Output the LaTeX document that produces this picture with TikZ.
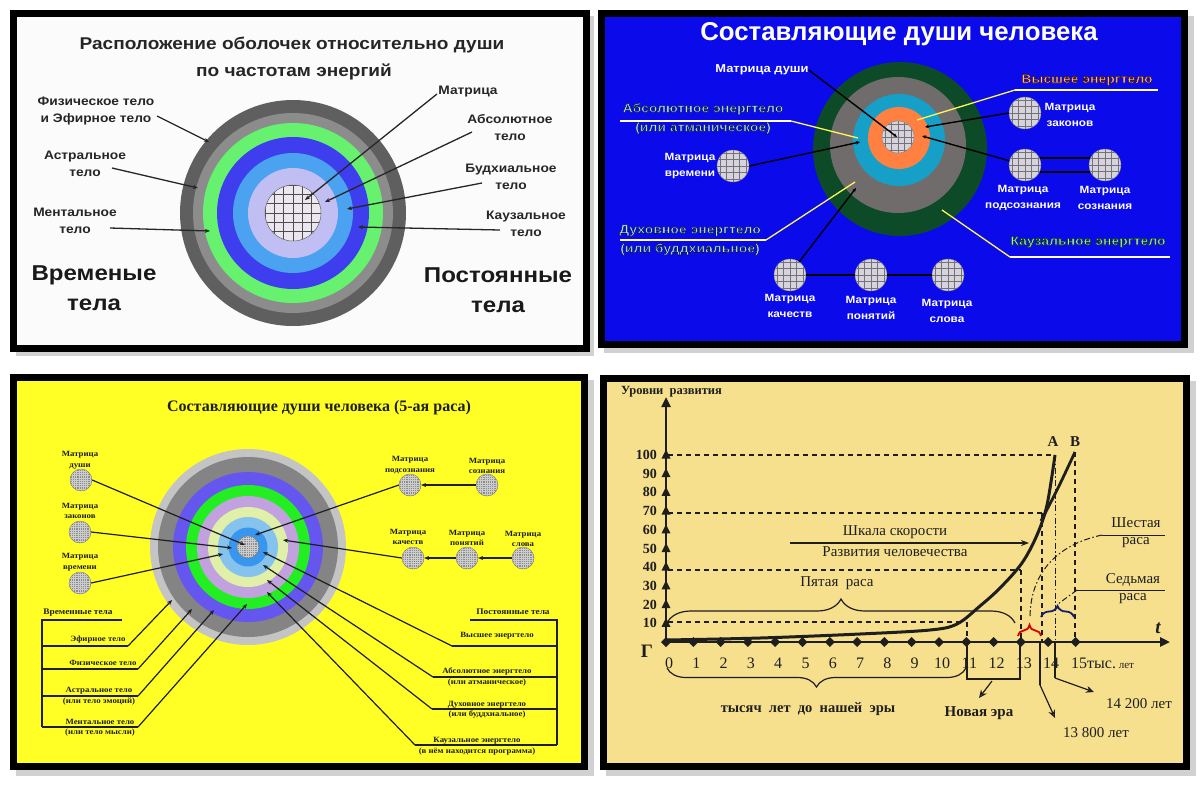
\documentclass[tikz,border=0pt]{standalone}
\usepackage{fontspec}
\setmainfont{Liberation Serif}
\newfontfamily\sa[FakeStretch=1.12]{Liberation Sans}
\newfontfamily\sn{Liberation Sans}
\newfontfamily\se[FakeStretch=1.1]{Liberation Serif}
\usetikzlibrary{arrows.meta,decorations.pathreplacing}
\definecolor{pa}{RGB}{251,251,251}
\definecolor{dga}{RGB}{95,95,95}
\definecolor{mga}{RGB}{140,140,140}
\definecolor{gra}{RGB}{102,242,110}
\definecolor{bla}{RGB}{62,62,238}
\definecolor{lba}{RGB}{74,162,240}
\definecolor{lva}{RGB}{192,190,242}
\definecolor{gfa}{RGB}{236,230,238}
\definecolor{pb}{RGB}{10,10,235}
\definecolor{dgb}{RGB}{12,74,40}
\definecolor{gyb}{RGB}{112,108,108}
\definecolor{tlb}{RGB}{22,160,200}
\definecolor{orb}{RGB}{255,128,64}
\definecolor{gfb}{RGB}{214,210,222}
\definecolor{cyb}{RGB}{176,230,246}
\definecolor{sab}{RGB}{255,186,150}
\definecolor{lgb}{RGB}{168,236,186}
\definecolor{pc}{RGB}{255,255,38}
\definecolor{lgc}{RGB}{196,196,196}
\definecolor{dgc}{RGB}{132,132,132}
\definecolor{vic}{RGB}{102,86,240}
\definecolor{grc}{RGB}{34,238,34}
\definecolor{lvc}{RGB}{194,162,222}
\definecolor{ygc}{RGB}{224,240,168}
\definecolor{lbc}{RGB}{134,194,238}
\definecolor{bbc}{RGB}{56,150,238}
\definecolor{pd}{RGB}{246,224,142}
\definecolor{ink}{RGB}{30,30,30}
\definecolor{navy}{RGB}{20,30,110}
\newcommand\outlinetxt[2]{\special{pdf:literal direct #1 RG 0.55 w 2 Tr}#2\special{pdf:literal direct 0 Tr}}
\begin{document}
\begin{tikzpicture}[x=1pt,y=-1pt,
  frame/.style={line width=7pt,draw=black},
  shadow/.style={fill=black!18},
  l1/.style={font=\sa\bfseries\fontsize{12.3}{17}\selectfont,align=center,inner sep=0pt,text=black!85},
  big1/.style={font=\sa\bfseries\fontsize{21.5}{30}\selectfont,align=center,inner sep=0pt,text=black!90},
  t1/.style={font=\sa\bfseries\fontsize{17}{18}\selectfont,inner sep=0pt,text=black!85},
  a1/.style={line width=1.3pt,draw=black!85,-{Stealth[length=5pt,width=4pt]}},
  gm1/.style={circle,inner sep=0pt,minimum size=56pt,fill=gfa,draw=black!60,line width=0.5pt,
    path picture={\draw[black!70,line width=0.6pt] (path picture bounding box.south west) grid[step=9.3pt] (path picture bounding box.north east);}},
  t2/.style={font=\sn\bfseries\fontsize{25.8}{27}\selectfont,inner sep=0pt,text=white},
  l2/.style={font=\sa\bfseries\fontsize{10.5}{16}\selectfont,align=center,inner sep=0pt,text=white},
  o2/.style={font=\sa\bfseries\fontsize{12.5}{19}\selectfont,align=center,inner sep=0pt},
  m2/.style={circle,inner sep=0pt,minimum size=32pt,fill=gfb,draw=black!50,line width=0.4pt,
    path picture={\draw[black!55,line width=0.5pt] (path picture bounding box.south west) grid[step=6.5pt] (path picture bounding box.north east);}},
  a2/.style={line width=1.4pt,draw=black,-{Stealth[length=4pt,width=3.5pt]}},
  c2/.style={line width=1.4pt,draw=black},
  wl/.style={line width=1.3pt,draw=white},
  yl/.style={line width=1.3pt,draw=yellow!65!white},
  t3/.style={font=\bfseries\fontsize{16}{17}\selectfont,inner sep=0pt,text=ink},
  l3/.style={font=\se\bfseries\fontsize{8}{10.5}\selectfont,align=center,inner sep=0pt,text=ink},
  m3/.style={circle,inner sep=0pt,minimum size=22pt,fill=black!45,draw=black!55,line width=0.3pt,
    path picture={\draw[white!80!black,line width=0.35pt] (path picture bounding box.south west) grid[step=2.2pt] (path picture bounding box.north east);}},
  a3/.style={line width=1.2pt,draw=ink,-{Stealth[length=5pt,width=4pt]}},
  c3/.style={line width=1.1pt,draw=ink},
  f4b/.style={font=\bfseries\fontsize{12.5}{14}\selectfont,inner sep=0pt,text=ink},
  f4n/.style={font=\bfseries\fontsize{14}{16}\selectfont,inner sep=0pt,text=ink},
  f4x/.style={font=\fontsize{16}{18}\selectfont,inner sep=0pt,text=ink},
  f4r/.style={font=\fontsize{15}{17}\selectfont,inner sep=0pt,text=ink,align=center},
  f4l/.style={font=\bfseries\fontsize{15}{17}\selectfont,inner sep=0pt,text=ink},
  dsh/.style={line width=1.1pt,draw=ink,dash pattern=on 5pt off 4pt},
  dd/.style={line width=1pt,draw=ink,dash pattern=on 6pt off 2.5pt on 1.5pt off 2.5pt},
  ax/.style={line width=2.4pt,draw=ink},
  a4/.style={line width=1.2pt,draw=ink,-{Stealth[length=8pt,width=7pt,open]}}
]
\useasboundingbox (0,0) rectangle (1200,788);
\fill[white] (0,0) rectangle (1200,788);

% ================= PANEL 1 =================
\fill[shadow] (16,16) rectangle (594,356);
\filldraw[frame,fill=pa] (13.5,13.5) rectangle (586.5,348.5);
\node[t1] (p1ta) at (292,45) {Расположение оболочек относительно души};
\node[t1] (p1tb) at (294,72) {по частотам энергий};
\fill[dga] (293,213) circle (113);
\fill[mga] (293,213) circle (100);
\fill[gra] (293,213) circle (90);
\fill[bla] (293,213) circle (76);
\fill[lba] (293,213) circle (60);
\fill[lva] (293,213) circle (45);
\node[gm1] (p1m) at (293,213) {};
\node[l1] (p1fiz) at (96,111) {Физическое тело\\и Эфирное тело};
\node[l1] (p1astr) at (85,164) {Астральное\\тело};
\node[l1] (p1ment) at (75,221) {Ментальное\\тело};
\node[big1] (p1vrem) at (94,288) {Временые\\тела};
\node[l1] (p1matr) at (468,92) {Матрица};
\node[l1] (p1abs) at (510,128) {Абсолютное\\тело};
\node[l1] (p1bud) at (511,177) {Будхиальное\\тело};
\node[l1] (p1kau) at (526,224) {Каузальное\\тело};
\node[big1] (p1post) at (498,290) {Постоянные\\тела};
\coordinate (p1fizS) at (157,116); \coordinate (p1fizE) at (209,142);
\coordinate (p1astrS) at (112,168); \coordinate (p1astrE) at (198,188);
\coordinate (p1mentS) at (110,228); \coordinate (p1mentE) at (210,231);
\coordinate (p1matrS) at (437,94); \coordinate (p1matrE) at (305,200);
\coordinate (p1absS) at (472,132); \coordinate (p1absE) at (325,202);
\coordinate (p1budS) at (482,183); \coordinate (p1budE) at (347,209);
\coordinate (p1kauS) at (500,230); \coordinate (p1kauE) at (358,227);
\draw[a1] (p1fizS) -- (p1fizE);
\draw[a1] (p1astrS) -- (p1astrE);
\draw[a1] (p1mentS) -- (p1mentE);
\draw[a1] (p1matrS) -- (p1matrE);
\draw[a1] (p1absS) -- (p1absE);
\draw[a1] (p1budS) -- (p1budE);
\draw[a1] (p1kauS) -- (p1kauE);

% ================= PANEL 2 =================
\fill[shadow] (604,16) rectangle (1194,353);
\filldraw[frame,fill=pb] (601.5,13.5) rectangle (1184.5,344.5);
\node[t2] (p2t) at (899,34) {Составляющие души человека};
\fill[dgb] (900,149) circle (87);
\fill[gyb] (898,145) circle (68);
\fill[tlb] (899,140) circle (46);
\fill[orb] (899,138) circle (31);
\node[m2] (p2m) at (898,137) {};
\node[l2,font=\sa\bfseries\fontsize{11.5}{16}\selectfont] (p2dush) at (762,70) {Матрица души};
\node[m2] (p2vrem) at (733,166) {};
\node[l2] (p2vremL) at (690,166) {Матрица\\времени};
\node[m2] (p2kach) at (790,275) {};
\node[m2] (p2pon) at (871,275) {};
\node[m2] (p2slov) at (948,275) {};
\node[l2] (p2kachL) at (790,306) {Матрица\\качеств};
\node[l2] (p2ponL) at (871,308) {Матрица\\понятий};
\node[l2] (p2slovL) at (947,311) {Матрица\\слова};
\node[m2] (p2zak) at (1025,113) {};
\node[m2] (p2podc) at (1025,165) {};
\node[m2] (p2soz) at (1105,165) {};
\node[l2] (p2zakL) at (1070,115) {Матрица\\законов};
\node[l2] (p2podcL) at (1023,198) {Матрица\\подсознания};
\node[l2] (p2sozL) at (1105,198) {Матрица\\сознания};
\node[o2,text=cyb] (p2abs) at (703,118.5) {\outlinetxt{0.05 0.08 0.3}{Абсолютное энергтело\\(или атманическое)}};
\node[o2,text=cyb] (p2duh) at (690,240) {\outlinetxt{0.05 0.08 0.3}{Духовное энергтело\\(или буддхиальное)}};
\node[o2,text=sab] (p2vys) at (1087,80) {\outlinetxt{0.25 0.05 0.05}{Высшее энергтело}};
\node[o2,text=lgb] (p2kau) at (1088,242) {\outlinetxt{0.02 0.2 0.1}{Каузальное энергтело}};
\coordinate (p2absU) at (620,121); \coordinate (p2absK) at (791,121); \coordinate (p2absE) at (858,138);
\coordinate (p2duhU) at (620,240); \coordinate (p2duhK) at (766,240); \coordinate (p2duhE) at (855,182);
\coordinate (p2vysU) at (1158,90); \coordinate (p2vysK) at (1015,90); \coordinate (p2vysE) at (917,120);
\coordinate (p2kauU) at (1170,257); \coordinate (p2kauK) at (1010,257); \coordinate (p2kauE) at (942,210);
\draw[wl] (p2absU) -- (p2absK); \draw[yl] (p2absK) -- (p2absE);
\draw[wl] (p2duhU) -- (p2duhK); \draw[yl] (p2duhK) -- (p2duhE);
\draw[wl] (p2vysU) -- (p2vysK); \draw[yl] (p2vysK) -- (p2vysE);
\draw[wl] (p2kauU) -- (p2kauK); \draw[yl] (p2kauK) -- (p2kauE);
\coordinate (p2dushE) at (897,137);
\coordinate (p2vremE) at (860,142);
\coordinate (p2kachE) at (856,188);
\coordinate (p2zakE) at (925,127);
\coordinate (p2podcE) at (922,136);
\draw[a2] (p2dush.east) -- (p2dushE);
\draw[a2] (p2vrem.east) -- (p2vremE);
\draw[a2] (p2kach.55) -- (p2kachE);
\draw[a2] (p2zak.west) -- (p2zakE);
\draw[a2] (p2podc.165) -- (p2podcE);
\draw[c2] (p2kach.east) -- (p2pon.west);
\draw[c2] (p2pon.east) -- (p2slov.west);
\draw[c2] (p2podc.25) -- (p2soz.155);
\draw[c2] (p2podc.-25) -- (p2soz.-155);

% ================= PANEL 3 =================
\fill[shadow] (16,380) rectangle (594,776);
\filldraw[frame,fill=pc] (13.5,377.5) rectangle (584.5,766.5);
\node[t3] (p3t) at (319,408) {Составляющие души человека (5-ая раса)};
\fill[lgc] (248,547) circle (98);
\fill[dgc] (248,547) circle (90);
\fill[vic] (248,547) circle (75);
\fill[grc] (248,547) circle (62);
\fill[lvc] (248,547) circle (51);
\fill[ygc] (248,547) circle (40);
\fill[lbc] (248,547) circle (30);
\fill[bbc] (248,547) circle (19.5);
\node[m3] (p3m) at (248,547) {};
\node[l3] (p3dushL) at (80,460) {Матрица\\души};
\node[l3] (p3zakL) at (80,511) {Матрица\\законов};
\node[l3] (p3vremL) at (80,562) {Матрица\\времени};
\node[m3] (p3dush) at (81,480) {};
\node[m3] (p3zak) at (80,532) {};
\node[m3] (p3vrem) at (80,583) {};
\node[l3] (p3podcL) at (410,465) {Матрица\\подсознания};
\node[l3] (p3sozL) at (487,466) {Матрица\\сознания};
\node[m3] (p3podc) at (410,485) {};
\node[m3] (p3soz) at (487,485) {};
\node[l3] (p3kachL) at (408,537) {Матрица\\качеств};
\node[l3] (p3ponL) at (467,538) {Матрица\\понятий};
\node[l3] (p3slovL) at (523,539) {Матрица\\слова};
\node[m3] (p3kach) at (413,558) {};
\node[m3] (p3pon) at (467,558) {};
\node[m3] (p3slov) at (523,558) {};
\coordinate (p3dushE) at (245,545);
\coordinate (p3zakE) at (232,548);
\coordinate (p3vremE) at (223,554);
\coordinate (p3podcE) at (255,535);
\coordinate (p3kachE) at (283,540);
\draw[a3] (p3dush.east) -- (p3dushE);
\draw[a3] (p3zak.east) -- (p3zakE);
\draw[a3] (p3vrem.east) -- (p3vremE);
\draw[a3] (p3podc.west) -- (p3podcE);
\draw[a3] (p3kach.west) -- (p3kachE);
\draw[a3] (p3soz.west) -- (p3podc.east);
\draw[a3] (p3slov.west) -- (p3pon.east);
\draw[a3] (p3pon.west) -- (p3kach.east);
% left bracket
\node[l3,font=\se\bfseries\fontsize{8.5}{10.5}\selectfont] (p3vr) at (78,613) {Временные тела};
\coordinate (p3vrA) at (42,620); \coordinate (p3vrB) at (122,620); \coordinate (p3vrC) at (42,727);
\draw[c3] (p3vrB) -- (p3vrA) -- (p3vrC);
\node[l3] (p3ef) at (98,640) {Эфирное тело};
\node[l3] (p3fz) at (103,663) {Физическое тело};
\node[l3] (p3as) at (99,696) {Астральное тело\\(или тело эмоций)};
\node[l3] (p3mn) at (100,727.5) {Ментальное тело\\(или тело мысли)};
\coordinate (p3efA) at (42,646); \coordinate (p3efB) at (128,646); \coordinate (p3efE) at (172,600);
\coordinate (p3fzA) at (42,669); \coordinate (p3fzB) at (138,669); \coordinate (p3fzE) at (192,609);
\coordinate (p3asA) at (42,696); \coordinate (p3asB) at (138,696); \coordinate (p3asE) at (214,610);
\coordinate (p3mnA) at (42,727); \coordinate (p3mnB) at (138,727); \coordinate (p3mnE) at (247,604);
\draw[c3] (p3efA) -- (p3efB); \draw[a3] (p3efB) -- (p3efE);
\draw[c3] (p3fzA) -- (p3fzB); \draw[a3] (p3fzB) -- (p3fzE);
\draw[c3] (p3asA) -- (p3asB); \draw[a3] (p3asB) -- (p3asE);
\draw[c3] (p3mnA) -- (p3mnB); \draw[a3] (p3mnB) -- (p3mnE);
% right bracket
\node[l3,font=\se\bfseries\fontsize{8.5}{10.5}\selectfont] (p3po) at (513,612) {Постоянные тела};
\coordinate (p3poA) at (470,620); \coordinate (p3poB) at (557,620); \coordinate (p3poC) at (557,745);
\draw[c3] (p3poA) -- (p3poB) -- (p3poC);
\node[l3] (p3vy) at (497,636) {Высшее энергтело};
\node[l3] (p3ab) at (487,677) {Абсолютное энергтело\\(или атманическое)};
\node[l3] (p3du) at (487,709.5) {Духовное энергтело\\(или буддхиальное)};
\node[l3] (p3ka) at (477,746) {Каузальное энергтело\\(в нём находится программа)};
\coordinate (p3vyA) at (557,646); \coordinate (p3vyB) at (452,646); \coordinate (p3vyE) at (263,552);
\coordinate (p3abA) at (557,677); \coordinate (p3abB) at (433,677); \coordinate (p3abE) at (263,565);
\coordinate (p3duA) at (557,709); \coordinate (p3duB) at (432,709); \coordinate (p3duE) at (267,580);
\coordinate (p3kaA) at (557,745); \coordinate (p3kaB) at (415,745); \coordinate (p3kaE) at (267,592);
\draw[c3] (p3vyA) -- (p3vyB); \draw[a3] (p3vyB) -- (p3vyE);
\draw[c3] (p3abA) -- (p3abB); \draw[a3] (p3abB) -- (p3abE);
\draw[c3] (p3duA) -- (p3duB); \draw[a3] (p3duB) -- (p3duE);
\draw[c3] (p3kaA) -- (p3kaB); \draw[a3] (p3kaB) -- (p3kaE);

% ================= PANEL 4 =================
\fill[shadow] (606,381) rectangle (1196,776);
\filldraw[frame,fill=pd] (603.5,378.5) rectangle (1186.5,766.5);
% guides
\coordinate (p4A) at (1055,455);
\coordinate (p4B) at (1075,452);
\draw[dsh] (668,455) -- (p4A);
\draw[dsh] (668,513) -- (1042,513);
\draw[dsh] (668,570) -- (1021,570);
\draw[dsh] (668,622) -- (965,622);
\draw[dsh] (1021,570) -- (1021,642);
\draw[dsh] (1042,513) -- (1042,642);
\draw[dsh] (967,622) -- (967,642);
\draw[dsh] (p4B) -- (1075,642);
\draw[dd] (p4A) -- (1055,642);
% axes
\coordinate (p4O) at (666,642);
\coordinate (p4ytop) at (666,397);
\coordinate (p4xend) at (1170,642);
\draw[ax,-{Triangle[length=10pt,width=9pt]}] (p4O) -- (p4ytop);
\draw[ax,-{Triangle[length=10pt,width=9pt]}] (p4O) -- (p4xend);
\node[f4b,anchor=west] (p4yl) at (621,392) {Уровни\ \ развития};
\foreach \v in {10,20,...,100}{
  \fill[ink] (661.5,{642-1.87*\v+3.5}) -- (670.5,{642-1.87*\v+3.5}) -- (666,{642-1.87*\v-5.5}) -- cycle;
  \node[f4n,anchor=east] (p4y\v) at (657,{642-1.87*\v}) {\v};
}
\foreach \t in {0,...,15}{
  \fill[ink] ({666+27.3*\t-5},642) -- ({666+27.3*\t},637) -- ({666+27.3*\t+5},642) -- ({666+27.3*\t},647) -- cycle;
}
\foreach \t in {0,...,14}{
  \node[f4x] (p4x\t) at ({669+27.3*\t},663) {\t};
}
\node[f4x,anchor=west] (p4x15) at (1071,663) {15тыс.{\fontsize{11}{12}\selectfont\ лет}};
\node[font=\bfseries\fontsize{19}{20}\selectfont,text=ink,inner sep=0pt] (p4G) at (647,651) {Г};
\node[font=\bfseries\itshape\fontsize{19}{20}\selectfont,text=ink,inner sep=0pt] (p4t) at (1158,628) {t};
% curves
\draw[line width=3pt,ink] plot[smooth,tension=0.55] coordinates {(666,640) (760,638) (860,634) (930,630) (957,624) (980,606) (1000,588) (1022,563) (1037,535) (1047,505) (1055,455)};
\draw[line width=2.8pt,ink] plot[smooth,tension=0.6] coordinates {(1041,521) (1058,488) (1075,452)};
\node[f4l] (p4Al) at (1053,442) {A};
\node[f4l] (p4Bl) at (1075,442) {B};
% speed scale
\node[f4r] (p4sk1) at (895,532) {Шкала скорости};
\node[f4r] (p4sk2) at (895,552) {Развития человечества};
\coordinate (p4skS) at (790,543); \coordinate (p4skE) at (1029,543);
\draw[line width=1.3pt,ink,-{Stealth[length=8pt,width=6pt]}] (p4skS) -- (p4skE);
% fifth race
\node[f4r] (p4r5) at (837,583) {Пятая\ \ раса};
\coordinate (p4r5a) at (667,623); \coordinate (p4r5b) at (1015,623);
\draw[line width=1.2pt,ink,decorate,decoration={brace,amplitude=24pt}] (p4r5a) -- (p4r5b);
% red and navy braces
\coordinate (p4rda) at (1018,636); \coordinate (p4rdb) at (1041,636);
\draw[line width=1.8pt,red!85!black,decorate,decoration={brace,amplitude=11pt}] (p4rda) -- (p4rdb);
\coordinate (p4nva) at (1041,617); \coordinate (p4nvb) at (1074,617);
\draw[line width=1.8pt,navy,decorate,decoration={brace,amplitude=11pt}] (p4nva) -- (p4nvb);
% sixth, seventh
\node[f4r] (p4r6) at (1136,533) {Шестая\\раса};
\node[f4r] (p4r7) at (1133,589) {Седьмая\\раса};
\coordinate (p4r6a) at (1165,535); \coordinate (p4r6b) at (1102,535); \coordinate (p4r6e) at (1030,618);
\draw[line width=1pt,ink] (p4r6a) -- (p4r6b);
\draw[dd] (p4r6b) .. controls (1055,545) and (1030,575) .. (p4r6e);
\coordinate (p4r7a) at (1165,590); \coordinate (p4r7b) at (1077,590); \coordinate (p4r7e) at (1058,604);
\draw[line width=1pt,ink] (p4r7a) -- (p4r7b);
\draw[dd] (p4r7b) -- (p4r7e);
% bottom braces
\coordinate (p4bca) at (966,668); \coordinate (p4bcb) at (667,668);
\draw[line width=1.2pt,ink,decorate,decoration={brace,amplitude=19pt}] (p4bca) -- (p4bcb);
\node[font=\bfseries\fontsize{14.5}{16}\selectfont,text=ink,inner sep=0pt] (p4bc) at (808,709) {тысяч\ \ лет\ \ до\ \ нашей\ \ эры};
\coordinate (p4na) at (967,642); \coordinate (p4nb) at (967,679); \coordinate (p4nc) at (1020,679); \coordinate (p4nd) at (1020,642);
\draw[line width=1.2pt,ink] (p4na) -- (p4nb) -- (p4nc) -- (p4nd);
\coordinate (p4nn) at (992,681); \coordinate (p4ne) at (979,698);
\draw[a4] (p4nn) -- (p4ne);
\node[f4l] (p4nera) at (979,713) {Новая эра};
\coordinate (p4e1a) at (1040,642); \coordinate (p4e1b) at (1040,685); \coordinate (p4e1e) at (1055,718);
\draw[line width=1.2pt,ink] (p4e1a) -- (p4e1b);
\draw[a4] (p4e1b) -- (p4e1e);
\node[f4r] (p4e1) at (1096,733) {13 800 лет};
\coordinate (p4e2a) at (1055,642); \coordinate (p4e2b) at (1055,678); \coordinate (p4e2e) at (1094,692);
\draw[line width=1.2pt,ink] (p4e2a) -- (p4e2b);
\draw[a4] (p4e2b) -- (p4e2e);
\node[f4r] (p4e2) at (1139,704) {14 200 лет};
\end{tikzpicture}
\end{document}
